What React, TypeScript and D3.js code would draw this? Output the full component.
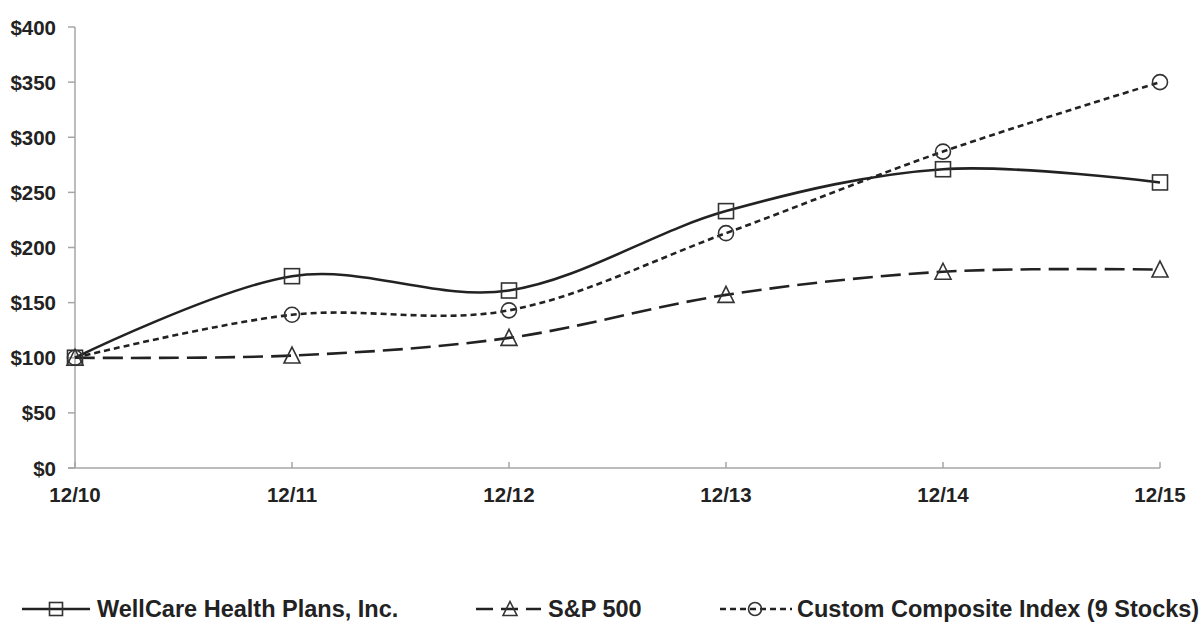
import React from "react";
import * as d3 from "d3";

const periods = ["12/10", "12/11", "12/12", "12/13", "12/14", "12/15"];
const wellcare = [100, 174, 161, 233, 271, 259];
const sp500 = [100, 102, 118, 157, 178, 180];
const composite = [100, 139, 143, 213, 287, 350];
const yTicks = [0, 50, 100, 150, 200, 250, 300, 350, 400];

const W = 1203;
const H = 637;
const FONT = "'Liberation Sans', Arial, sans-serif";
const INK = "#222";
const MARK = "#333";
const AXIS = "#a6a6a6";

type Series = { name: string; values: number[]; dash: string; marker: "square" | "triangle" | "circle" };

const series: Series[] = [
  { name: "WellCare Health Plans, Inc.", values: wellcare, dash: "none", marker: "square" },
  { name: "S&P 500", values: sp500, dash: "20 8", marker: "triangle" },
  { name: "Custom Composite Index (9 Stocks)", values: composite, dash: "6 4", marker: "circle" },
];

function Marker({ kind, x, y, s = 15 }: { kind: string; x: number; y: number; s?: number }) {
  const h = s / 2;
  if (kind === "square")
    return <rect x={x - h} y={y - h} width={s} height={s} fill="none" stroke={MARK} strokeWidth={1.6} />;
  if (kind === "triangle")
    return (
      <path
        d={`M${x},${y - h - 1}L${x + h + 0.5},${y + h}L${x - h - 0.5},${y + h}Z`}
        fill="none"
        stroke={MARK}
        strokeWidth={1.6}
      />
    );
  return <circle cx={x} cy={y} r={h} fill="none" stroke={MARK} strokeWidth={1.6} />;
}

export default function App() {
  const x = d3.scalePoint<string>().domain(periods).range([75, 1160]);
  const y = d3.scaleLinear().domain([0, 400]).range([468, 27]);

  const line = d3
    .line<number>()
    .x((_, i) => x(periods[i]) as number)
    .y((d) => y(d))
    .curve(d3.curveCardinal.tension(0));

  // legend entries: line start, line end, marker x, text x
  const legend = [
    { x0: 22, x1: 90, mx: 56, tx: 97, dash: "none" },
    { x0: 476, x1: 541, mx: 510, tx: 548, dash: "17 8" },
    { x0: 720, x1: 792, mx: 755, tx: 797, dash: "6 4" },
  ];
  const ly = 609;

  return (
    <svg width={W} height={H} style={{ position: "absolute", left: 0, top: 0, background: "#fff" }}>
      <rect width={W} height={H} fill="#fff" />
      {/* y axis */}
      <line x1={75} x2={75} y1={y(400)} y2={y(0)} stroke={AXIS} strokeWidth={1.5} />
      {yTicks.map((t) => (
        <g key={t}>
          <line x1={68} x2={75} y1={y(t)} y2={y(t)} stroke={AXIS} strokeWidth={1.5} />
          <text
            x={56}
            y={y(t)}
            textAnchor="end"
            dominantBaseline="central"
            fontFamily={FONT}
            fontWeight="bold"
            fontSize={20.5}
            fill={INK}
          >
            {"$" + t}
          </text>
        </g>
      ))}
      {/* x axis */}
      <line x1={68} x2={1160} y1={y(0)} y2={y(0)} stroke={AXIS} strokeWidth={1.5} />
      {periods.map((p) => (
        <g key={p}>
          <line x1={x(p)} x2={x(p)} y1={y(0)} y2={y(0) - 6} stroke={AXIS} strokeWidth={1.5} />
          <text
            x={x(p)}
            y={494}
            textAnchor="middle"
            dominantBaseline="central"
            fontFamily={FONT}
            fontWeight="bold"
            fontSize={20.5}
            fill={INK}
          >
            {p}
          </text>
        </g>
      ))}
      {/* series */}
      {series.map((s) => (
        <path
          key={s.name}
          d={line(s.values) || ""}
          fill="none"
          stroke={INK}
          strokeWidth={2.6}
          strokeDasharray={s.dash}
        />
      ))}
      {series.map((s) =>
        s.values.map((v, i) => <Marker key={s.name + i} kind={s.marker} x={x(periods[i]) as number} y={y(v)} />)
      )}
      {/* legend */}
      {series.map((s, i) => {
        const L = legend[i];
        return (
          <g key={"lg" + s.name}>
            <line x1={L.x0} x2={L.x1} y1={ly} y2={ly} stroke={INK} strokeWidth={2.6} strokeDasharray={L.dash} />
            <Marker kind={s.marker} x={L.mx} y={ly} s={13} />
            <text
              x={L.tx}
              y={ly}
              dominantBaseline="central"
              fontFamily={FONT}
              fontWeight="bold"
              fontSize={23.5}
              fill={INK}
            >
              {s.name}
            </text>
          </g>
        );
      })}
    </svg>
  );
}
